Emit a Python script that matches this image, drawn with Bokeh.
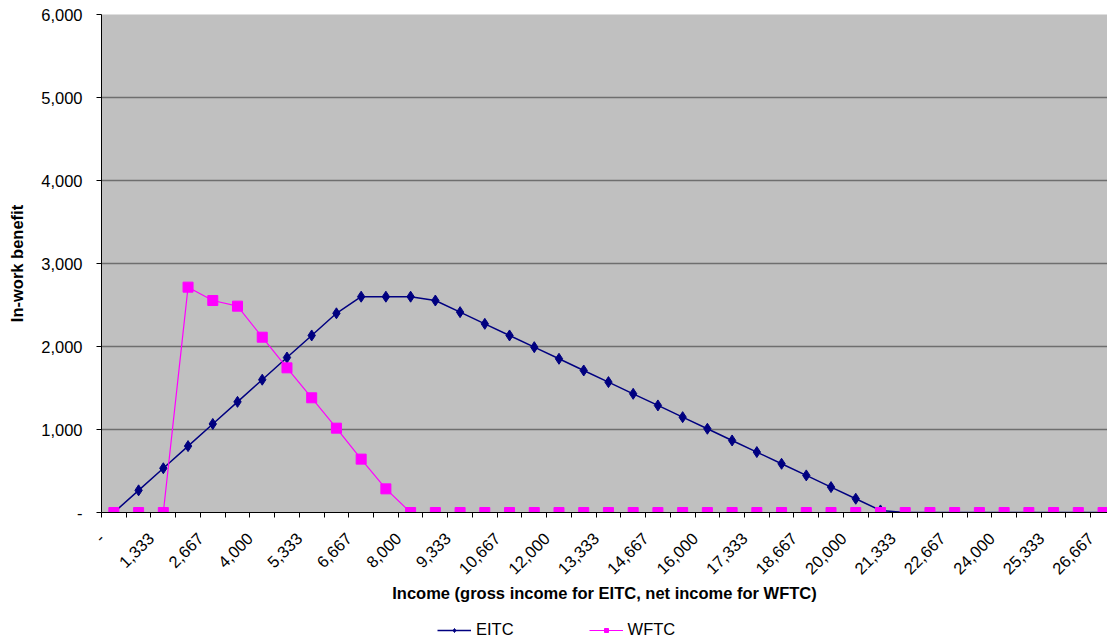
import math
from bokeh.plotting import figure
from bokeh.layouts import column
from bokeh.models import FixedTicker, Legend, LegendItem, Range1d
from bokeh.embed import file_html
from bokeh.resources import INLINE

# Income categories (step of 666.67)
income = ["-", "667", "1,333", "2,000", "2,667", "3,333", "4,000", "4,667", "5,333", "6,000",
          "6,667", "7,333", "8,000", "8,667", "9,333", "10,000", "10,667", "11,333", "12,000",
          "12,667", "13,333", "14,000", "14,667", "15,333", "16,000", "16,667", "17,333",
          "18,000", "18,667", "19,333", "20,000", "20,667", "21,333", "22,000", "22,667",
          "23,333", "24,000", "24,667", "25,333", "26,000", "26,667"]

eitc = [0, 267, 533, 800, 1067, 1333, 1600, 1867, 2133, 2400,
        2600, 2600, 2600, 2554, 2414, 2273, 2133, 1992, 1852, 1711,
        1571, 1430, 1290, 1149, 1009, 868, 728, 587, 447, 306,
        166, 25, 0, 0, 0, 0, 0, 0, 0, 0, 0]

wftc = [0, 0, 0, 2715, 2554, 2486, 2112, 1743, 1382, 1016,
        643, 285, 0, 0, 0, 0, 0, 0, 0, 0,
        0, 0, 0, 0, 0, 0, 0, 0, 0, 0,
        0, 0, 0, 0, 0, 0, 0, 0, 0, 0, 0]

y_ticks = [0, 1000, 2000, 3000, 4000, 5000, 6000]
y_tick_labels = ["-", "1,000", "2,000", "3,000", "4,000", "5,000", "6,000"]

series_names = ["EITC", "WFTC"]
x_title = "Income (gross income for EITC, net income for WFTC)"
y_title = "In-work benefit"

FONT = "Liberation Sans"
FS = "16.5px"
EITC_COLOR = "#000080"
WFTC_COLOR = "#FF00FF"
xs = list(range(len(income)))

p = figure(frame_width=1006, frame_height=498, output_backend="svg", toolbar_location=None,
           min_border_left=101, min_border_right=0, min_border_top=14, min_border_bottom=0,
           x_range=Range1d(-0.5, 40.18), y_range=Range1d(0, 6000))
p.background_fill_color = "#C0C0C0"
p.border_fill_color = "white"
p.outline_line_color = None

# grid
p.xgrid.grid_line_color = None
p.ygrid.grid_line_color = "#6e6e6e"
p.ygrid.grid_line_width = 1.5
p.ygrid.ticker = FixedTicker(ticks=y_ticks)

# x axis: labels (every 2nd category) anchored just left of the category centre,
# tick marks on category boundaries
label_pos = [i - 0.5 for i in xs if i % 2 == 0]
xa = p.xaxis[0]
xa.ticker = FixedTicker(ticks=label_pos,
                        minor_ticks=[i + 0.5 for i in range(-1, len(income))])
xa.major_label_overrides = {i - 0.5: income[i] for i in xs if i % 2 == 0}
xa.major_label_orientation = math.pi / 4
xa.major_tick_line_color = None
xa.major_tick_out = 0
xa.major_tick_in = 0
xa.minor_tick_line_color = "black"
xa.minor_tick_out = 5
xa.minor_tick_in = 0
xa.axis_line_color = "black"
xa.major_label_text_font = FONT
xa.major_label_text_font_size = FS
xa.major_label_text_color = "black"
xa.major_label_standoff = 18
xa.axis_label = x_title
xa.axis_label_text_font = FONT
xa.axis_label_text_font_style = "bold"
xa.axis_label_text_font_size = FS
xa.axis_label_text_color = "black"
xa.axis_label_standoff = 1

# y axis
ya = p.yaxis[0]
ya.ticker = FixedTicker(ticks=y_ticks)
ya.major_label_overrides = {v: l for v, l in zip(y_ticks, y_tick_labels)}
ya.minor_tick_line_color = None
ya.major_tick_out = 5
ya.major_tick_in = 0
ya.axis_line_color = "black"
ya.major_tick_line_color = "black"
ya.major_label_text_font = FONT
ya.major_label_text_font_size = FS
ya.major_label_text_color = "black"
ya.major_label_standoff = 14
ya.axis_label = y_title
ya.axis_label_text_font = FONT
ya.axis_label_text_font_style = "bold"
ya.axis_label_text_font_size = FS
ya.axis_label_text_color = "black"
ya.axis_label_standoff = 12

# series
p.line(xs, eitc, line_color=EITC_COLOR, line_width=1.5)
p.scatter(xs, eitc, marker="diamond", size=11, fill_color=EITC_COLOR, line_color=EITC_COLOR)
p.line(xs, wftc, line_color=WFTC_COLOR, line_width=1.2)
p.scatter(xs, wftc, marker="square", size=10, fill_color=WFTC_COLOR, line_color=WFTC_COLOR)

# legend strip underneath: a small figure whose y range is far above the data,
# so only the legend swatches of the same series are visible
lg = figure(width=1107, height=40, output_backend="svg", toolbar_location=None,
            min_border=0, x_axis_type=None, y_axis_type=None,
            x_range=Range1d(-0.5, 40.18), y_range=Range1d(10000, 11000))
lg.outline_line_color = None
lg.background_fill_color = "white"
lg.border_fill_color = "white"
s1l = lg.line(xs, eitc, line_color=EITC_COLOR, line_width=1.5)
s1m = lg.scatter(xs, eitc, marker="diamond", size=9, fill_color=EITC_COLOR, line_color=EITC_COLOR)
s2l = lg.line(xs, wftc, line_color=WFTC_COLOR, line_width=1.2)
s2m = lg.scatter(xs, wftc, marker="square", size=9, fill_color=WFTC_COLOR, line_color=WFTC_COLOR)

legend = Legend(items=[LegendItem(label=series_names[0], renderers=[s1l, s1m]),
                       LegendItem(label=series_names[1], renderers=[s2l, s2m])],
                orientation="horizontal", location=(336, 5),
                label_text_font=FONT, label_text_font_size=FS, label_text_color="black",
                glyph_width=34, glyph_height=10, spacing=75,
                label_standoff=5, padding=0, margin=0,
                border_line_color=None, background_fill_alpha=0)
lg.add_layout(legend, "center")

open("out.html", "w").write(file_html(column(p, lg, spacing=0), INLINE))
